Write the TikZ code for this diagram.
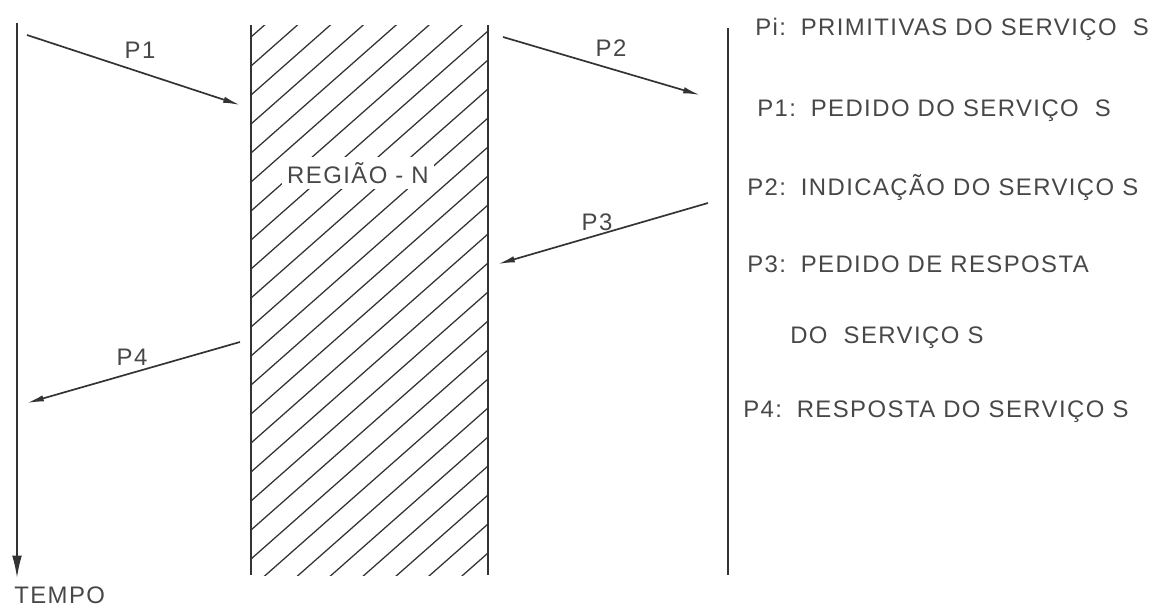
\documentclass[tikz,border=0pt]{standalone}
\usepackage{fontspec}
\setmainfont{Liberation Sans}
\usetikzlibrary{arrows.meta}

\begin{document}
\begin{tikzpicture}[x=0.025cm,y=-0.025cm,>={Latex[length=12pt,width=4.5pt]},
    font=\fontsize{17}{20}\selectfont\addfontfeature{LetterSpace=6},
    seta/.style={->,line width=1.2pt,draw=black!80},
    traco/.style={line width=1.3pt,draw=black!80},
    prim/.style={anchor=west,text=black!72,inner sep=0pt},
    rot/.style={text=black!72,inner sep=1pt}]
    \useasboundingbox (0,0) rectangle (1167,607);
    % eixo do tempo
    \coordinate (t0) at (17,23);
    \coordinate (t1) at (17,578);
    \draw[traco,->,>={Latex[length=16pt,width=7pt]}] (t0) -- (t1);
    \node[rot,anchor=base west,inner sep=0pt] (tempo) at (14,603) {TEMPO};
    % regiao N
    \begin{scope}
        \clip (251,25) rectangle (488,575);
        \foreach \k in {0,...,28}
            \draw[line width=0.9pt,black!80] (251,37+29*\k) -- (488,37+29*\k-209);
    \end{scope}
    \coordinate (a0) at (251,25);
    \coordinate (a1) at (251,575);
    \coordinate (b0) at (488,25);
    \coordinate (b1) at (488,575);
    \draw[traco] (a0) -- (a1) (b0) -- (b1);
    \node[rot,fill=white,inner sep=4pt] (regiao) at (358,173) {REGIÃO - N};
    % linha da direita
    \coordinate (c0) at (728,28);
    \coordinate (c1) at (728,575);
    \draw[traco] (c0) -- (c1);
    % primitivas
    \coordinate (p1a) at (27,35);
    \coordinate (p1b) at (240,105);
    \coordinate (p2a) at (503,37);
    \coordinate (p2b) at (700,95);
    \coordinate (p3a) at (708,203);
    \coordinate (p3b) at (498,264);
    \coordinate (p4a) at (240,342);
    \coordinate (p4b) at (27,403);
    \draw[seta] (p1a) -- (p1b);
    \draw[seta] (p2a) -- (p2b);
    \draw[seta] (p3a) -- (p3b);
    \draw[seta] (p4a) -- (p4b);
    \node[rot] (l1) at (140,50) {P1};
    \node[rot] (l2) at (611,48) {P2};
    \node[rot] (l3) at (597,222) {P3};
    \node[rot] (l4) at (132,357) {P4};
    % legenda
    \node[prim] (g0) at (755,29) {Pi:\, PRIMITIVAS DO SERVIÇO \ S};
    \node[prim] (g1) at (757,111) {P1:\, PEDIDO DO SERVIÇO \ S};
    \node[prim] (g2) at (747,188) {P2:\, INDICAÇÃO DO SERVIÇO S};
    \node[prim] (g3) at (747,264) {P3:\, PEDIDO DE RESPOSTA};
    \node[prim] (g4) at (790,338) {DO \ SERVIÇO S};
    \node[prim] (g5) at (743,412) {P4:\, RESPOSTA DO SERVIÇO S};
\end{tikzpicture}
\end{document}
